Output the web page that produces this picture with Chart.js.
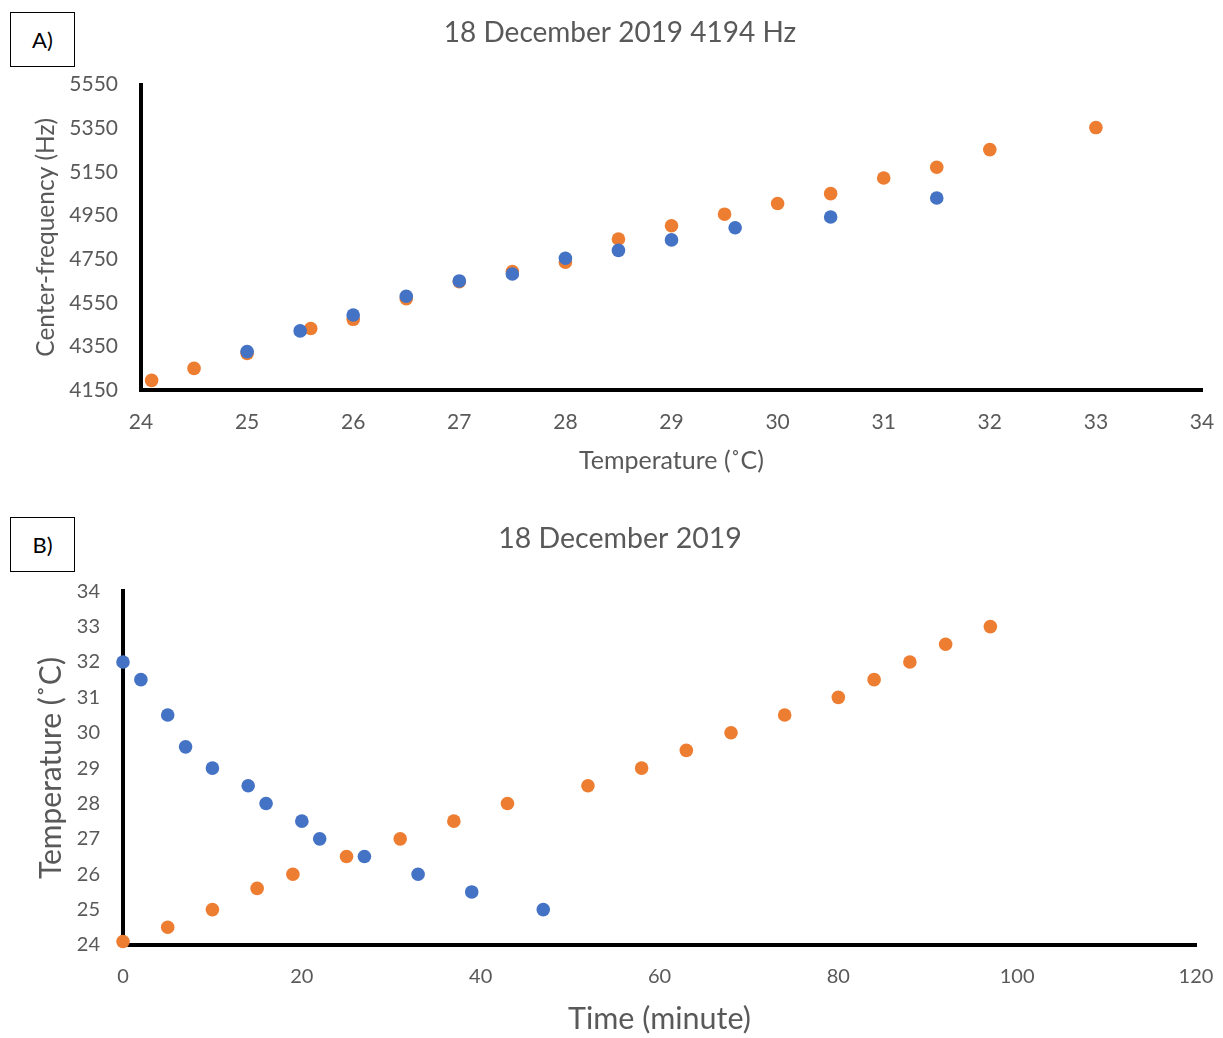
<!DOCTYPE html>
<html>
<head>
<meta charset="utf-8">
<title>18 December 2019</title>
<script src="https://cdn.jsdelivr.net/npm/chart.js@4.4.1/dist/chart.umd.min.js"></script>
<style>
  body { margin: 0; background: #fff; width: 1223px; height: 1038px; position: relative; overflow: hidden; }
  .panel { position: absolute; left: 0; width: 1223px; }
  #panelA { top: 0; height: 480px; }
  #panelB { top: 490px; height: 548px; }
  .tag {
    position: absolute; left: 10px; width: 63px; height: 53px;
    border: 1.5px solid #000; background: #fff;
    font: 22px Lato, sans-serif; color: #000;
    display: flex; align-items: center; justify-content: center;
  }
</style>
</head>
<body>
<div class="panel" id="panelA"><canvas id="chartA"></canvas></div>
<div class="panel" id="panelB"><canvas id="chartB"></canvas></div>
<div class="tag" style="top:12px">A)</div>
<div class="tag" style="top:517px">B)</div>

<script>
// A) centre frequency against temperature, two runs
const coolTempA = [25, 25.5, 26, 26.5, 27, 27.5, 28, 28.5, 29, 29.6, 30.5, 31.5];
const coolFreqA = [4326, 4421, 4494, 4580, 4650, 4682, 4754, 4790, 4838, 4894, 4943, 5030];
const heatTempA = [24.1, 24.5, 25, 25.6, 26, 26.5, 27, 27.5, 28, 28.5, 29, 29.5, 30, 30.5, 31, 31.5, 32, 33];
const heatFreqA = [4194, 4249, 4318, 4432, 4474, 4568, 4646, 4693, 4736, 4842, 4903, 4956, 5005, 5050, 5122, 5171, 5252, 5353];

// B) temperature against time for the same two runs
const coolTimeB = [0, 2, 5, 7, 10, 14, 16, 20, 22, 27, 33, 39, 47];
const coolTempB = [32, 31.5, 30.5, 29.6, 29, 28.5, 28, 27.5, 27, 26.5, 26, 25.5, 25];
const heatTimeB = [0, 5, 10, 15, 19, 25, 31, 37, 43, 52, 58, 63, 68, 74, 80, 84, 88, 92, 97];
const heatTempB = [24.1, 24.5, 25, 25.6, 26, 26.5, 27, 27.5, 28, 28.5, 29, 29.5, 30, 30.5, 31, 31.5, 32, 32.5, 33];

const BLUE = '#4472C4';
const ORANGE = '#ED7D31';
const GREY = '#595959';
const FONT = 'Lato, sans-serif';
const PAD_LEFT = 17;

function toPoints(xs, ys) {
    return xs.map((x, i) => ({ x: x, y: ys[i] }));
}

function dotSet(label, xs, ys, color) {
    return {
        label: label,
        data: toPoints(xs, ys),
        backgroundColor: color,
        borderColor: color,
        pointRadius: 6.8,
        pointBorderWidth: 0,
        clip: false // dots sitting on the axes stay whole
    };
}

// fixed axis boxes so the plot area lands in the same place every time
function axisX(cfg) {
    return {
        type: 'linear',
        min: cfg.min, max: cfg.max,
        afterFit: s => {
            s.height = cfg.height;
            s.paddingRight = cfg.right;
        },
        grid: { display: false, drawTicks: false },
        border: { display: true, color: '#000', width: 4 },
        ticks: {
            stepSize: cfg.step, padding: 20, color: GREY,
            font: { family: FONT, size: cfg.tickSize },
            callback: v => String(v)
        },
        title: { display: true, text: cfg.title, color: GREY, padding: { top: 0, bottom: cfg.titlePad }, font: { family: FONT, size: cfg.titleSize } }
    };
}

function axisY(cfg) {
    return {
        type: 'linear',
        min: cfg.min, max: cfg.max,
        afterFit: s => { s.width = cfg.width - PAD_LEFT; },
        grid: { display: false, drawTicks: false },
        border: { display: true, color: '#000', width: 4 },
        ticks: {
            stepSize: cfg.step, padding: 23, color: GREY,
            font: { family: FONT, size: cfg.tickSize },
            callback: v => String(v)
        },
        title: { display: true, text: cfg.title, color: GREY, padding: { top: cfg.titlePad, bottom: 0 }, font: { family: FONT, size: cfg.titleSize } }
    };
}

function makeChart(id, cfg) {
    return new Chart(document.getElementById(id), {
        type: 'scatter',
        data: { datasets: cfg.datasets },
        options: {
            responsive: true,
            maintainAspectRatio: false,
            animation: false,
            layout: { padding: { left: PAD_LEFT, right: 0, top: 0, bottom: 0 } },
            plugins: {
                legend: { display: false },
                tooltip: { enabled: false },
                title: {
                    display: true,
                    text: cfg.title,
                    color: GREY,
                    font: { family: FONT, size: cfg.titleSize, weight: 'normal' },
                    padding: cfg.titlePadding
                }
            },
            scales: { x: cfg.x, y: cfg.y }
        }
    });
}

makeChart('chartA', {
    title: '18 December 2019 4194 Hz',
    titleSize: 28,
    titlePadding: { top: 16, bottom: 35 },
    datasets: [
        dotSet('Cooling', coolTempA, coolFreqA, BLUE),
        dotSet('Heating', heatTempA, heatFreqA, ORANGE)
    ],
    x: axisX({ min: 24, max: 34, step: 1, height: 90, right: 21, tickSize: 21, title: 'Temperature (˚C)', titleSize: 25, titlePad: 4 }),
    y: axisY({ min: 4150, max: 5550, step: 200, width: 141, tickSize: 21, title: 'Center-frequency (Hz)', titleSize: 24.5, titlePad: 14 })
});

makeChart('chartB', {
    title: '18 December 2019',
    titleSize: 28.5,
    titlePadding: { top: 32, bottom: 35 },
    datasets: [
        dotSet('Cooling', coolTimeB, coolTempB, BLUE),
        dotSet('Heating', heatTimeB, heatTempB, ORANGE)
    ],
    x: axisX({ min: 0, max: 120, step: 20, height: 93, right: 27, tickSize: 20, title: 'Time (minute)', titleSize: 30.5, titlePad: 1 }),
    y: axisY({ min: 24, max: 34, step: 1, width: 123, tickSize: 20, title: 'Temperature (˚C)', titleSize: 30, titlePad: 16 })
});
</script>
</body>
</html>
